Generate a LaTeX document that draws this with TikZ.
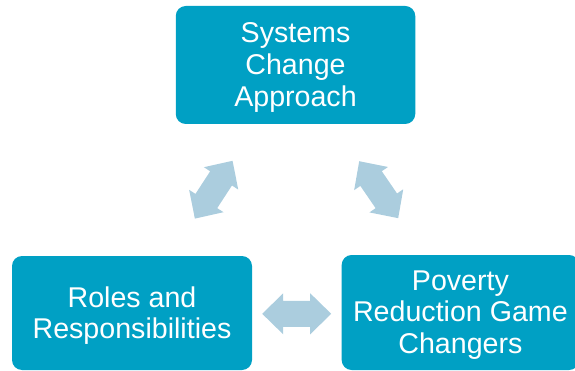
\documentclass[tikz,border=0pt]{standalone}
\usepackage{fontspec}
\setmainfont{Liberation Sans}
\definecolor{boxblue}{RGB}{0,160,196}
\definecolor{arrowblue}{RGB}{171,205,222}
\tikzset{
  box/.style={draw=none, fill=boxblue, rounded corners=10pt, inner sep=0pt},
  boxtext/.style={inner sep=0pt, text=white, align=center, font=\fontsize{28.6}{31.6}\selectfont},
  blockarrow/.style={fill=arrowblue, draw=none}
}
\newcommand{\dblarrowshape}{(-34.5,0) -- (-13.5,20.5) -- (-13.5,13) -- (13.5,13) -- (13.5,20.5) -- (34.5,0) -- (13.5,-20.5) -- (13.5,-13) -- (-13.5,-13) -- (-13.5,-20.5) -- cycle}
\begin{document}
\begin{tikzpicture}[x=1pt, y=-1pt]
\useasboundingbox (0,0) rectangle (575,371);
\clip (0,0) rectangle (575,371);
\node[box, minimum width=239.5pt, minimum height=118pt] (sys) at (295.5,65) {};
\node[box, minimum width=240pt, minimum height=114pt] (roles) at (132,313) {};
\node[box, minimum width=237.5pt, minimum height=115pt] (pov) at (460.4,312.5) {};
\node[boxtext] (systxt) at ([yshift=-2.5pt]sys.center) {Systems\\Change\\Approach};
\node[boxtext] (rolestxt) at ([yshift=-2.5pt]roles.center) {Roles and\\Responsibilities};
\node[boxtext] (povtxt) at ([yshift=-2.5pt]pov.center) {Poverty\\Reduction Game\\Changers};
\fill[blockarrow, shift={(213.7,189.7)}, rotate=56.9] \dblarrowshape;
\fill[blockarrow, shift={(378.7,189.7)}, rotate=-55.6] \dblarrowshape;
\fill[blockarrow, shift={(296.7,313.8)}] \dblarrowshape;
\end{tikzpicture}
\end{document}
